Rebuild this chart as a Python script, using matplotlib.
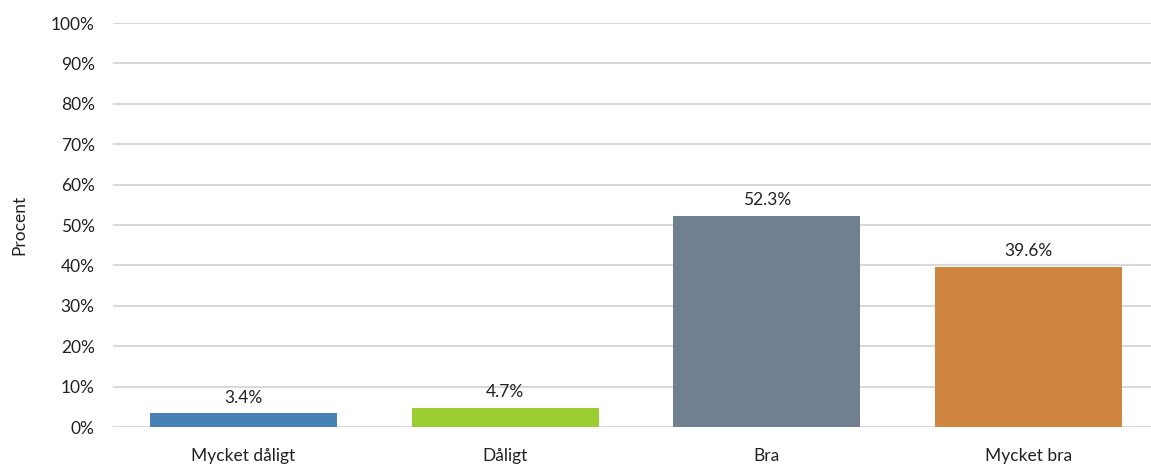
import matplotlib
matplotlib.use("Agg")
import matplotlib.pyplot as plt

categories = ["Mycket dåligt", "Dåligt", "Bra", "Mycket bra"]
values = [3.4, 4.7, 52.3, 39.6]
colors = ["#4682B4", "#9ACD32", "#708090", "#CD853F"]
yticks = list(range(0, 101, 10))
ytick_labels = [f"{t}%" for t in yticks]

plt.rcParams['font.family'] = ['Lato', 'DejaVu Sans']

fig = plt.figure(figsize=(11.51, 4.67), dpi=100)
W, H = 1151, 467
ax = fig.add_axes([112.7 / W, 1 - 427 / H, 1046.7 / W, (427 - 23) / H])

x = range(len(categories))
bars = ax.bar(x, values, width=0.715, color=colors, zorder=3)
for xi, v in zip(x, values):
    ax.text(xi, v + 1.9, f"{v:.1f}%", ha="center", va="bottom", fontsize=12.5, color="#222222")

ax.set_xlim(-0.5, 3.5)
ax.set_ylim(0, 100)
ax.set_yticks(yticks)
ax.set_yticklabels(ytick_labels)
ax.set_xticks(list(x))
ax.set_xticklabels(categories)
ax.tick_params(axis="both", length=0, labelsize=12.5, colors="#222222")
ax.tick_params(axis="y", pad=13)
ax.tick_params(axis="x", pad=15)
ax.yaxis.grid(True, color="#D9D9D9", linewidth=1.5, zorder=0)
for s in ax.spines.values():
    s.set_visible(False)
ax.set_ylabel("Procent", fontsize=12.5, color="#222222", labelpad=17)

fig.savefig("out.png", dpi=100)
